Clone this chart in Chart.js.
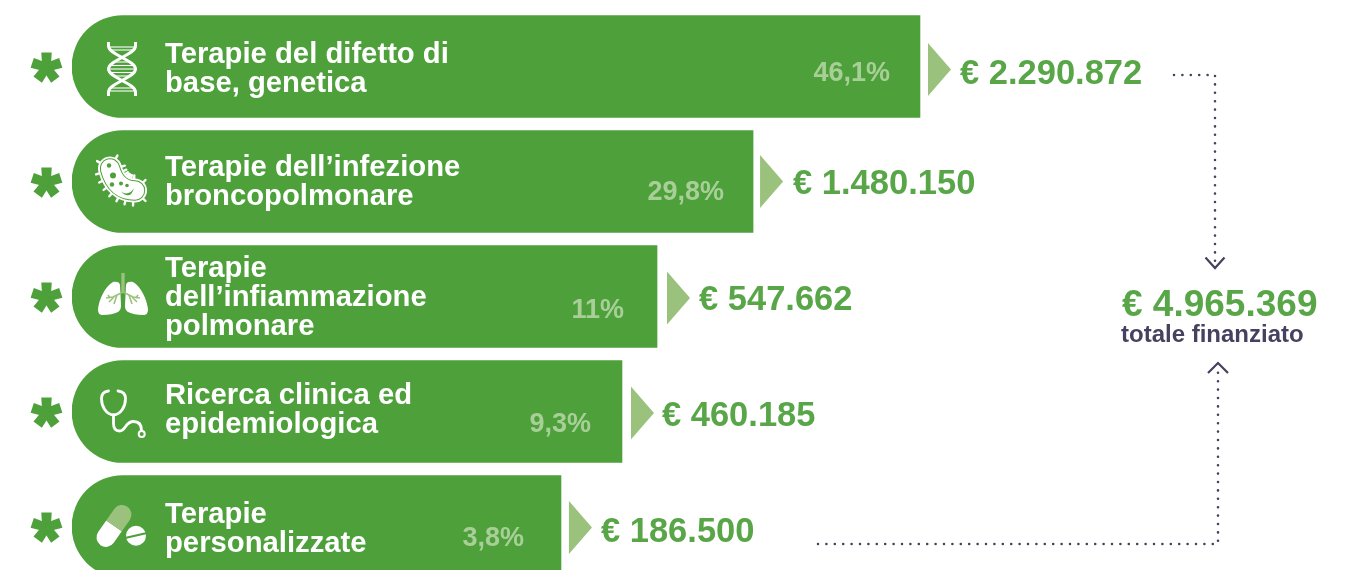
<!DOCTYPE html>
<html lang="it">
<head>
<meta charset="utf-8">
<title>Totale finanziato</title>
<style>
  html,body{margin:0;padding:0;background:#fff;overflow:hidden;}
  #wrap{width:1351px;height:570px;overflow:hidden;}
  canvas{display:block;}
</style>
</head>
<body>
<div id="wrap"><canvas id="chart" width="1351" height="592"></canvas></div>
<script src="https://cdn.jsdelivr.net/npm/chart.js@4/dist/chart.umd.min.js"></script>
<script>
// data
const categories = [
  ['Terapie del difetto di','base, genetica'],
  ['Terapie dell’infezione','broncopolmonare'],
  ['Terapie','dell’infiammazione','polmonare'],
  ['Ricerca clinica ed','epidemiologica'],
  ['Terapie','personalizzate']
];
const percentValues = [46.1, 29.8, 11, 9.3, 3.8];
const euroValues = [2290872, 1480150, 547662, 460185, 186500];
const totalValue = 4965369;
const totalLabel = 'totale finanziato';

const GREEN = '#4da03a', TEXTGREEN = '#58a647', LIGHT = '#9bc27c', PCT = '#a9cf98', DARK = '#45415e';
const FONT = '"Liberation Sans", Arial, sans-serif';

const euro = n => '€ ' + String(n).replace(/\B(?=(\d{3})+$)/g, '.');
const pct = n => String(n).replace('.', ',') + '%';

// the bars in the original are not to scale, so the axis is piecewise:
// each stop says how far along the axis (0..1) a percentage sits
class StopScale extends Chart.LinearScale {
  getPixelForValue(v){
    const st = this.options.stops;
    let f = st[st.length-1][1];
    for(let i=1;i<st.length;i++){
      if(v<=st[i][0]){
        const a=st[i-1], b=st[i];
        f = a[1]+(v-a[0])/(b[0]-a[0])*(b[1]-a[1]);
        break;
      }
    }
    return this.left + f*this.width;
  }
}
StopScale.id = 'stops';
StopScale.defaults = Chart.LinearScale.defaults;
Chart.register(StopScale);

// icons, drawn around (0,0)
const icons = [
  function dna(c){
    c.strokeStyle='#fff'; c.lineWidth=3; c.lineCap='butt';
    [1,-1].forEach(s=>{
      c.beginPath(); c.moveTo(-13.5*s,-27); c.lineTo(-13.5*s,-23);
      c.bezierCurveTo(-13.5*s,-14,13.5*s,-9,13.5*s,0);
      c.bezierCurveTo(13.5*s,9,-13.5*s,14,-13.5*s,23); c.lineTo(-13.5*s,27); c.stroke();
    });
    c.lineWidth=1.1;
    [[-22,12],[-19,11],[-7,9],[-3.5,12],[0,13],[3.5,12],[7,9],[19,11],[22,12]].forEach(r=>{
      c.beginPath(); c.moveTo(-r[1],r[0]); c.lineTo(r[1],r[0]); c.stroke();
    });
  },
  function germ(c){
    const P0=[-12,-13],P1=[-6,9],P2=[13,9];
    const body=()=>{c.beginPath();c.moveTo(P0[0],P0[1]);c.quadraticCurveTo(P1[0],P1[1],P2[0],P2[1]);};
    c.lineCap='round';
    // cilia along both sides of the body
    c.strokeStyle='#fff'; c.lineWidth=2.4;
    for(let t=-0.12;t<=1.12;t+=0.155){
      const u=Math.min(1,Math.max(0,t)), m=1-u;
      const x=m*m*P0[0]+2*m*u*P1[0]+u*u*P2[0], y=m*m*P0[1]+2*m*u*P1[1]+u*u*P2[1];
      let dx=2*m*(P1[0]-P0[0])+2*u*(P2[0]-P1[0]), dy=2*m*(P1[1]-P0[1])+2*u*(P2[1]-P1[1]);
      const l=Math.hypot(dx,dy); dx/=l; dy/=l;
      const ex=t<0?-dx*0.7:t>1?dx*0.7:0, ey=t<0?-dy*0.7:t>1?dy*0.7:0;
      [1,-1].forEach(s=>{
        const nx=-dy*s*(t<0||t>1?0.7:1)+ex, ny=dx*s*(t<0||t>1?0.7:1)+ey;
        c.beginPath(); c.moveTo(x+nx*10,y+ny*10); c.lineTo(x+nx*15,y+ny*15); c.stroke();
      });
    }
    c.strokeStyle='#fff'; c.lineWidth=24; body(); c.stroke();
    c.strokeStyle=GREEN; c.lineWidth=20.5; body(); c.stroke();
    c.strokeStyle='#fff'; c.lineWidth=18.5; body(); c.stroke();
    c.fillStyle=GREEN;
    [[-13,-16,2.2],[-9,-6,3],[-10,3,2.2],[-1,2,2],[5,4,1.8]].forEach(h=>{
      c.beginPath(); c.arc(h[0],h[1],h[2],0,Math.PI*2); c.fill();
    });
    c.beginPath(); c.moveTo(-1,10); c.quadraticCurveTo(6,15,12,7); c.quadraticCurveTo(8,19,-1,10); c.fill();
  },
  function lungs(c){
    c.fillStyle='#fff';
    [1,-1].forEach(s=>{
      c.beginPath(); c.moveTo(-3*s,-12);
      c.bezierCurveTo(-3*s,-15,-7*s,-16,-10*s,-15);
      c.bezierCurveTo(-18*s,-11,-24*s,3,-25*s,12);
      c.bezierCurveTo(-25*s,17,-23*s,18,-20*s,18);
      c.bezierCurveTo(-14*s,18,-9*s,17,-5*s,15);
      c.bezierCurveTo(-2*s,13,-2*s,10,-2*s,8);
      c.closePath(); c.fill();
    });
    c.strokeStyle=LIGHT; c.lineCap='butt'; c.lineWidth=3.4;
    c.beginPath(); c.moveTo(0,-24); c.lineTo(0,-4); c.stroke();
    c.lineWidth=1.6;
    [1,-1].forEach(s=>{
      c.beginPath(); c.moveTo(0,-5); c.lineTo(-10*s,0); c.lineTo(-17*s,1); c.stroke();
      c.beginPath(); c.moveTo(-9*s,0); c.lineTo(-14*s,5); c.stroke();
      c.beginPath(); c.moveTo(-13*s,1); c.lineTo(-15*s,-2); c.stroke();
      c.beginPath(); c.moveTo(-6*s,-2); c.lineTo(-9*s,7); c.stroke();
    });
  },
  function stethoscope(c){
    c.strokeStyle='#fff'; c.lineWidth=2.8; c.lineCap='round';
    c.beginPath(); c.moveTo(-14.5,-20.5);
    c.bezierCurveTo(-19,-20,-21.5,-17,-21.5,-13);
    c.bezierCurveTo(-21.5,-5,-17,3,-9.5,3.5);
    c.bezierCurveTo(-2,3,2.5,-5,2.5,-13);
    c.bezierCurveTo(2.5,-17,0,-20,-5,-20.5); c.stroke();
    c.beginPath(); c.moveTo(-9.5,3.5); c.lineTo(-9.5,12);
    c.quadraticCurveTo(-9.5,19.5,-3.5,19.5);
    c.bezierCurveTo(3,19.5,2,10,10.5,10);
    c.quadraticCurveTo(18.5,10,18.5,19); c.stroke();
    c.lineWidth=2;
    c.beginPath(); c.arc(18.7,22.5,3,0,Math.PI*2); c.stroke();
  },
  function pills(c){
    const ax=Math.atan2(-23.7,16.6), r=9.5, half=14;
    c.save(); c.translate(-8,-0.6); c.rotate(ax);
    c.fillStyle='#fff';
    c.beginPath(); c.arc(-half,0,r,Math.PI/2,Math.PI*1.5); c.lineTo(0,-r); c.lineTo(0,r); c.closePath(); c.fill();
    c.fillStyle=LIGHT;
    c.beginPath(); c.arc(half,0,r,-Math.PI/2,Math.PI/2); c.lineTo(0,r); c.lineTo(0,-r); c.closePath(); c.fill();
    c.restore();
    c.fillStyle='#fff';
    c.beginPath(); c.arc(14,9.2,10,0,Math.PI*2); c.fill();
    c.strokeStyle=GREEN; c.lineWidth=2.2; c.lineCap='butt';
    c.beginPath(); c.moveTo(3,11.5); c.lineTo(25,6.5); c.stroke();
  }
];

function asterisk(c,x,y){
  c.save(); c.translate(x,y); c.fillStyle=GREEN;
  for(let i=0;i<5;i++){
    c.save(); c.rotate(i*2*Math.PI/5);
    c.beginPath(); c.moveTo(-4.2,2); c.lineTo(-5.2,-15); c.lineTo(5.2,-15); c.lineTo(4.2,2); c.closePath(); c.fill();
    c.restore();
  }
  c.restore();
}

function dotted(c,pts){
  c.save(); c.strokeStyle=DARK; c.lineWidth=2.6; c.lineCap='round'; c.setLineDash([0,8.4]);
  c.beginPath(); pts.forEach((p,i)=> i?c.lineTo(p[0],p[1]):c.moveTo(p[0],p[1])); c.stroke();
  c.restore();
}

const decorations = {
  id:'decorations',
  afterDatasetsDraw(chart,args,opts){
    const c=chart.ctx, xs=chart.scales.x, ys=chart.scales.y;
    c.save();
    categories.forEach((lines,i)=>{
      const y=ys.getPixelForValue(i), end=xs.getPixelForValue(percentValues[i]);
      asterisk(c,46.5,y+1);
      c.save(); c.translate(opts.iconX[i],y+opts.iconDy[i]); icons[i](c); c.restore();

      c.fillStyle='#fff'; c.textAlign='left'; c.textBaseline='alphabetic';
      c.font='bold '+opts.labelSize+'px '+FONT;
      lines.forEach((t,k)=> c.fillText(t,opts.labelX,y+opts.labelDy[i]+k*opts.lineH));

      c.fillStyle=PCT; c.textAlign='right';
      c.font='bold '+opts.pctSize+'px '+FONT;
      c.fillText(pct(percentValues[i]),end-opts.pctGap[i],y+opts.pctDy[i]);

      const ty=y+opts.triDy[i], tx=end+opts.triGap[i];
      c.fillStyle=LIGHT;
      c.beginPath(); c.moveTo(tx,ty-26.5); c.lineTo(tx+23,ty); c.lineTo(tx,ty+26.5); c.closePath(); c.fill();

      c.fillStyle=TEXTGREEN; c.textAlign='left';
      c.font='bold '+opts.euroSize+'px '+FONT;
      c.fillText(euro(euroValues[i]),end+opts.euroGap[i],y+opts.euroDy[i]);
    });

    // totale, with the two dotted connectors
    c.fillStyle=TEXTGREEN; c.textAlign='left';
    c.font='bold 37px '+FONT;
    c.fillText(euro(totalValue),1122,316);
    c.fillStyle=DARK; c.font='bold 24px '+FONT;
    c.fillText(totalLabel,1121,342);

    dotted(c,[[1174,75],[1215,75],[1215,262]]);
    dotted(c,[[818,544],[1218,544],[1218,372]]);
    c.strokeStyle=DARK; c.lineWidth=2.2; c.lineCap='butt';
    c.beginPath(); c.moveTo(1205.5,257.5); c.lineTo(1215,268); c.lineTo(1224.5,257.5); c.stroke();
    c.beginPath(); c.moveTo(1208,373); c.lineTo(1218,363); c.lineTo(1228,373); c.stroke();
    c.restore();
  }
};

new Chart(document.getElementById('chart'),{
  type:'bar',
  data:{ labels:categories, datasets:[{
    data:percentValues,
    backgroundColor:GREEN,
    barThickness:102,
    borderSkipped:false,
    borderRadius:{topLeft:51,bottomLeft:51,topRight:0,bottomRight:0}
  }]},
  plugins:[decorations],
  options:{
    indexAxis:'y',
    responsive:false,
    animation:false,
    events:[],
    layout:{ padding:{left:72,top:9,bottom:8,right:0} },
    scales:{
      x:{ type:'stops', display:false, min:0, max:100,
          stops:[[0,0],[3.8,0.3823],[9.3,0.43],[11,0.4574],[29.8,0.5325],[46.1,0.663],[100,1]] },
      y:{ display:false }
    },
    plugins:{
      legend:{display:false},
      tooltip:{enabled:false},
      decorations:{
        iconX:[122,122,123,123,122], iconDy:[2.5,0,0.5,0,0],
        labelX:165, labelSize:29.25, lineH:29,
        labelDy:[-3.5,-5.5,-19.5,-7.5,-3.5],
        pctSize:27, pctGap:[30,29,33,31,37], pctDy:[14,18,21,20,19],
        triDy:[3,0,1.5,1.5,1], triGap:[8,7,10,9,8],
        euroSize:34.5, euroDy:[17,12,13,14,15], euroGap:[40,40,42,40,40]
      }
    }
  }
});
</script>
</body>
</html>
